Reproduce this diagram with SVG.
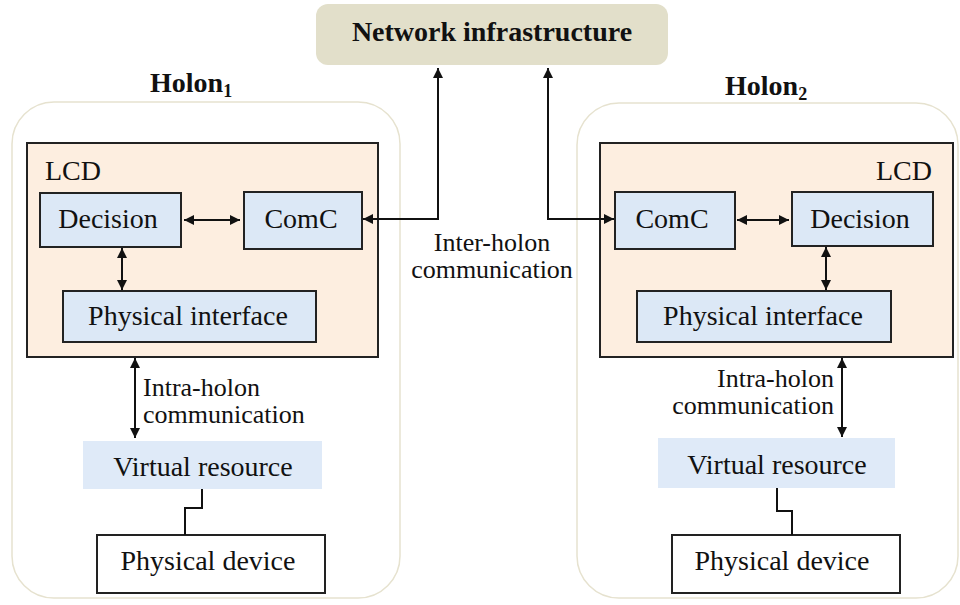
<svg xmlns="http://www.w3.org/2000/svg" width="960" height="605" viewBox="0 0 960 605">
<style>
text{font-size:28px;fill:#111}
.b{font-weight:bold}
.lbl{font-size:26px}
.holon{fill:#fff;stroke:#e6e2cf;stroke-width:1.5}
.lcd{fill:#fdeee0;stroke:#222;stroke-width:2}
.blue{fill:#dce8f6;stroke:#222;stroke-width:2}
.vr{fill:#dfeaf8}
.pd{fill:#fff;stroke:#222;stroke-width:2}
.c{stroke:#111;stroke-width:2;fill:none}
</style>
<defs>
<marker id="ah" viewBox="0 0 10 10" refX="10" refY="5" markerWidth="10" markerHeight="10" markerUnits="userSpaceOnUse" orient="auto-start-reverse">
<path d="M0,0 L10,5 L0,10 z" fill="#111"/>
</marker>
</defs>
<g font-family="'Liberation Serif', 'DejaVu Serif', serif">
<g id="holon1">
<rect class="holon" x="12" y="102" width="388" height="496" rx="42"/>
<text class="b" x="150" y="92">Holon<tspan font-size="18" dy="5">1</tspan></text>
</g>
<g id="holon2">
<rect class="holon" x="577" y="103" width="381" height="495" rx="42"/>
<text class="b" x="725" y="95">Holon<tspan font-size="18" dy="5">2</tspan></text>
</g>
<g id="network">
<rect x="316" y="4" width="352" height="61" rx="12" fill="#e2dfca"/>
<text class="b" x="492" y="41" text-anchor="middle">Network infrastructure</text>
</g>
<g id="lcd1">
<rect class="lcd" x="27" y="143" width="351" height="214"/>
<text x="45" y="180">LCD</text>
</g>
<g id="lcd2">
<rect class="lcd" x="600" y="143" width="353" height="214"/>
<text x="932" y="180" text-anchor="end">LCD</text>
</g>
<g id="decision1">
<rect class="blue" x="40" y="193" width="141" height="54"/>
<text x="108" y="228" text-anchor="middle">Decision</text>
</g>
<g id="comc1">
<rect class="blue" x="244" y="192" width="118" height="57"/>
<text x="301" y="228" text-anchor="middle">ComC</text>
</g>
<g id="pi1">
<rect class="blue" x="63" y="291" width="253" height="51"/>
<text x="188" y="325" text-anchor="middle">Physical interface</text>
</g>
<g id="vr1">
<rect class="vr" x="83" y="441" width="239" height="48"/>
<text x="203" y="476" text-anchor="middle">Virtual resource</text>
</g>
<g id="pd1">
<rect class="pd" x="97" y="535" width="228" height="58"/>
<text x="208" y="570" text-anchor="middle">Physical device</text>
</g>
<g id="comc2">
<rect class="blue" x="615" y="192" width="120" height="57"/>
<text x="672" y="228" text-anchor="middle">ComC</text>
</g>
<g id="decision2">
<rect class="blue" x="792" y="192" width="141" height="54"/>
<text x="860" y="228" text-anchor="middle">Decision</text>
</g>
<g id="pi2">
<rect class="blue" x="637" y="291" width="254" height="51"/>
<text x="763" y="325" text-anchor="middle">Physical interface</text>
</g>
<g id="vr2">
<rect class="vr" x="658" y="438" width="237" height="50"/>
<text x="777" y="474" text-anchor="middle">Virtual resource</text>
</g>
<g id="pd2">
<rect class="pd" x="672" y="535" width="228" height="58"/>
<text x="782" y="570" text-anchor="middle">Physical device</text>
</g>
<g id="connectors">
<line class="c" x1="184" y1="220" x2="240" y2="220" marker-start="url(#ah)" marker-end="url(#ah)"/>
<line class="c" x1="122" y1="248" x2="122" y2="290" marker-start="url(#ah)" marker-end="url(#ah)"/>
<polyline class="c" points="363,219 438,219 438,68" marker-start="url(#ah)" marker-end="url(#ah)"/>
<polyline class="c" points="548,68 548,219 614,219" marker-start="url(#ah)" marker-end="url(#ah)"/>
<line class="c" x1="737" y1="220" x2="789" y2="220" marker-start="url(#ah)" marker-end="url(#ah)"/>
<line class="c" x1="826" y1="247" x2="826" y2="290" marker-start="url(#ah)" marker-end="url(#ah)"/>
<line class="c" x1="135" y1="358" x2="135" y2="438" marker-start="url(#ah)" marker-end="url(#ah)"/>
<line class="c" x1="842" y1="358" x2="842" y2="437" marker-start="url(#ah)" marker-end="url(#ah)"/>
<polyline class="c" points="202,489 202,508 185,508 185,535"/>
<polyline class="c" points="777,488 777,511 792,511 792,535"/>
</g>
<g id="labels">
<text class="lbl" x="143" y="396">Intra-holon</text>
<text class="lbl" x="143" y="423">communication</text>
<text class="lbl" x="834" y="387" text-anchor="end">Intra-holon</text>
<text class="lbl" x="834" y="414" text-anchor="end">communication</text>
<text class="lbl" x="492" y="251" text-anchor="middle">Inter-holon</text>
<text class="lbl" x="492" y="278" text-anchor="middle">communication</text>
</g>
</g>
</svg>
